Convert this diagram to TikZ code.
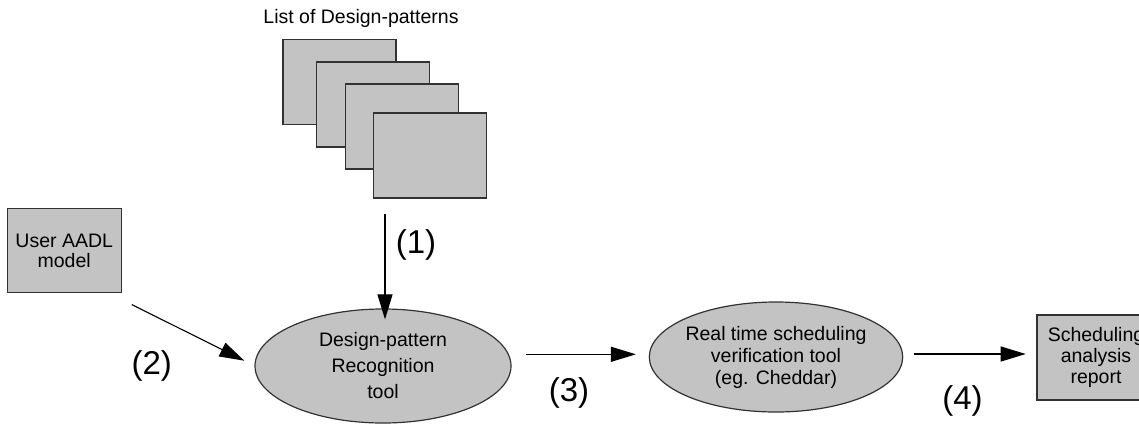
\documentclass[tikz,border=0pt]{standalone}
\usepackage{fontspec}
\setmainfont{Liberation Sans}
\usetikzlibrary{shapes.geometric,arrows.meta}
\definecolor{boxfill}{RGB}{195,195,195}
\definecolor{edge}{RGB}{50,50,50}
\tikzset{
  txt/.style={font=\fontsize{9.75pt}{11pt}\selectfont, align=center},
  biglbl/.style={font=\fontsize{16.5pt}{18pt}\selectfont, inner sep=0pt},
  card/.style={draw=edge, fill=boxfill, line width=0.6pt, minimum width=56.5pt, minimum height=42.5pt, inner sep=0pt},
  blob/.style={ellipse, draw=edge, fill=boxfill, line width=0.6pt, inner sep=0pt},
  arr/.style={line width=0.55pt, -{Triangle[length=12.5pt,width=7.5pt]}},
}
\begin{document}
\begin{tikzpicture}[x=0.5pt, y=-0.5pt]
  \useasboundingbox (0,0) rectangle (1139,423);
  \clip (0,0) rectangle (1139,423);

  % stack of design-pattern sheets
  \node[txt] (title) at (361,18.3) {List of Design-patterns};
  \node[card] (p1) at (339.5,82) {};
  \node[card] (p2) at (373.3,104.5) {};
  \node[card] (p3) at (401.7,126.5) {};
  \node[card] (p4) at (430,155.5) {};

  % input model
  \node[card, minimum width=57pt, minimum height=42.2pt, txt, font=\fontsize{9.75pt}{10pt}\selectfont] (user) at (64.2,250.5) {User AADL\\model};

  % tools
  \node[blob, minimum width=128pt, minimum height=57pt,
        label={[txt, font=\fontsize{9.75pt}{13pt}\selectfont]center:{Design-pattern\\Recognition\\tool}}]
        (rec) at (383,366) {};
  \node[blob, minimum width=126.7pt, minimum height=55pt,
        label={[txt]center:{Real time scheduling\\verification tool\\(eg. Cheddar)}}]
        (rts) at (776,357) {};

  % output report
  \node[card, minimum width=59pt, minimum height=42.5pt, txt, font=\fontsize{9.75pt}{10.5pt}\selectfont] (report) at (1096,357.5) {Scheduling\\analysis\\report};

  % flow
  \coordinate (a1) at (385,214);
  \draw[arr] (a1) -- ([yshift=-5.5pt]a1 |- rec.north);
  \draw[arr] ([shift={(10,11.3)}]user.south east) -- ([shift={(-10,-5.3)}]rec.west);
  \draw[arr] ([shift={(14,-11.7)}]rec.east) -- ([shift={(-12.8,-2.7)}]rts.west);
  \draw[arr] ([shift={(10.3,-3)}]rts.east) -- ([shift={(-10.7,-3.5)}]report.west);

  % step numbers
  \node[biglbl] (s1) at (416,245) {(1)};
  \node[biglbl] (s2) at (151.7,365.5) {(2)};
  \node[biglbl] (s3) at (569,393.3) {(3)};
  \node[biglbl] (s4) at (962.5,400.7) {(4)};
\end{tikzpicture}
\end{document}
